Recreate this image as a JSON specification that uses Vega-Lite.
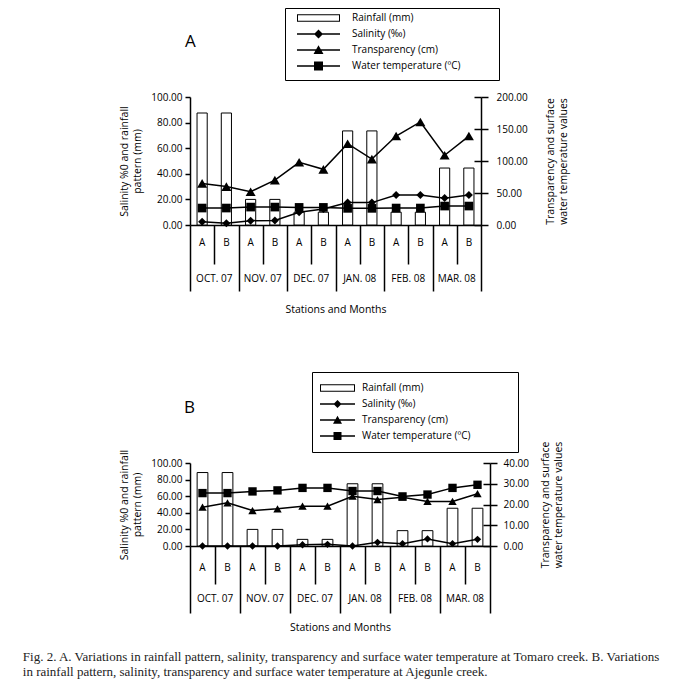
{
  "$schema": "https://vega.github.io/schema/vega-lite/v6.json",
  "padding": {"left": 22, "top": 7, "right": 5, "bottom": 5},
  "config": {
    "font": "Open Sans",
    "view": {"stroke": null},
    "axis": {"labelFont": "Open Sans", "labelFontSize": 10, "labelColor": "black", "labelAngle": 0, "titleFont": "Open Sans", "titleFontSize": 10.5, "titleFontWeight": "normal", "titleColor": "black", "domainColor": "black", "tickColor": "black", "grid": false},
    "legend": {"labelFont": "Open Sans", "labelFontSize": 10, "labelColor": "black"}
  },
  "title": {"text": ["Fig. 2. A. Variations in rainfall pattern, salinity, transparency and surface water temperature at Tomaro creek. B. Variations", "in rainfall pattern, salinity, transparency and surface water temperature at Ajegunle creek."], "orient": "bottom", "anchor": "start", "font": "Liberation Serif", "fontSize": 13, "fontWeight": "normal", "color": "#222", "lineHeight": 15, "offset": 18, "dx": -97},
  "spacing": 55,
  "resolve": {"scale": {"shape": "independent"}, "legend": {"shape": "independent"}},
  "vconcat": [
    {
      "width": 291, "height": 128,
      "title": {"text": "A", "anchor": "start", "frame": "group", "fontSize": 17, "fontWeight": "normal", "font": "Open Sans", "baseline": "top", "offset": 0, "dy": 43, "dx": -5},
      "data": {"values": [
        {"site": "OCT. 07 A", "rain": 87.5, "sal": 2.5, "transp": 65, "temp": 26.5},
        {"site": "OCT. 07 B", "rain": 87.5, "sal": 1.3, "transp": 60, "temp": 26.5},
        {"site": "NOV. 07 A", "rain": 20, "sal": 3.4, "transp": 52, "temp": 28},
        {"site": "NOV. 07 B", "rain": 20, "sal": 3.5, "transp": 70, "temp": 28},
        {"site": "DEC. 07 A", "rain": 10, "sal": 10, "transp": 98, "temp": 27.5},
        {"site": "DEC. 07 B", "rain": 10, "sal": 12.5, "transp": 87, "temp": 27.5},
        {"site": "JAN. 08 A", "rain": 73.5, "sal": 17.5, "transp": 127, "temp": 26},
        {"site": "JAN. 08 B", "rain": 73.5, "sal": 17.5, "transp": 103, "temp": 26},
        {"site": "FEB. 08 A", "rain": 10, "sal": 23.4, "transp": 139, "temp": 26.5},
        {"site": "FEB. 08 B", "rain": 10, "sal": 23.4, "transp": 161, "temp": 26.5},
        {"site": "MAR. 08 A", "rain": 44.5, "sal": 21, "transp": 109, "temp": 29.6},
        {"site": "MAR. 08 B", "rain": 44.5, "sal": 23.4, "transp": 139, "temp": 29.6}
      ]},
      "layer": [
        {"encoding": {
           "x": {"field": "site", "type": "nominal", "scale": {"domain": ["OCT. 07 A","OCT. 07 B","NOV. 07 A","NOV. 07 B","DEC. 07 A","DEC. 07 B","JAN. 08 A","JAN. 08 B","FEB. 08 A","FEB. 08 B","MAR. 08 A","MAR. 08 B"], "paddingInner": 0, "paddingOuter": 0},
             "axis": {"orient": "bottom", "title": "Stations and Months", "titlePadding": 13, "labels": false, "ticks": true, "tickBand": "extent", "tickWidth": 1.5, "domainWidth": 1.5,
               "tickSize": {"condition": {"test": "datum.value && indexof(datum.value, ' A') > 0", "value": 39}, "value": 66}}}
         },
         "layer": [
          {"mark": {"type": "bar", "fill": "white", "stroke": "black", "strokeWidth": 1, "width": {"band": 0.42}},
           "encoding": {
             "y": {"field": "rain", "type": "quantitative", "scale": {"domain": [0, 100], "nice": false},
               "axis": {"orient": "left", "values": [0, 20, 40, 60, 80, 100], "format": ".2f", "tickSize": 5, "tickWidth": 1.5, "domainWidth": 1.5, "labelPadding": 3, "title": ["Salinity %0 and rainfall", "pattern (mm)"], "titleLineHeight": 13, "titlePadding": 8}}
           }},
          {"mark": {"type": "line", "color": "black", "strokeWidth": 1.5},
           "encoding": {"y": {"field": "sal", "type": "quantitative", "scale": {"domain": [0, 100], "nice": false},
               "axis": {"orient": "left", "values": [0, 20, 40, 60, 80, 100], "format": ".2f", "tickSize": 5, "tickWidth": 1.5, "domainWidth": 1.5, "labelPadding": 3, "title": ["Salinity %0 and rainfall", "pattern (mm)"], "titleLineHeight": 13, "titlePadding": 8}}}},
          {"mark": {"type": "point", "shape": "diamond", "filled": true, "color": "black", "size": 64, "opacity": 1},
           "encoding": {"y": {"field": "sal", "type": "quantitative", "scale": {"domain": [0, 100], "nice": false},
               "axis": {"orient": "left", "values": [0, 20, 40, 60, 80, 100], "format": ".2f", "tickSize": 5, "tickWidth": 1.5, "domainWidth": 1.5, "labelPadding": 3, "title": ["Salinity %0 and rainfall", "pattern (mm)"], "titleLineHeight": 13, "titlePadding": 8}}}}
        ]},
        {"encoding": {
           "x": {"field": "site", "type": "nominal", "axis": {"orient": "bottom", "labelExpr": "slice(datum.value, -1)", "ticks": false, "domain": false, "labelPadding": 12.5, "title": null}}
         },
         "layer": [
          {"mark": {"type": "line", "color": "black", "strokeWidth": 1.5},
           "encoding": {"y": {"field": "transp", "type": "quantitative", "scale": {"domain": [0, 200], "nice": false},
               "axis": {"orient": "right", "values": [0, 50, 100, 150, 200], "format": ".2f", "tickSize": 7, "tickWidth": 1.5, "domainWidth": 1.5, "labelPadding": 8, "title": ["Transparency and surface", "water temperature values"], "titleAngle": 270, "titleBaseline": "top", "titleLineHeight": 13, "titlePadding": 5}}}},
          {"mark": {"type": "line", "color": "black", "strokeWidth": 1.5},
           "encoding": {"y": {"field": "temp", "type": "quantitative", "scale": {"domain": [0, 200], "nice": false},
               "axis": {"orient": "right", "values": [0, 50, 100, 150, 200], "format": ".2f", "tickSize": 7, "tickWidth": 1.5, "domainWidth": 1.5, "labelPadding": 8, "title": ["Transparency and surface", "water temperature values"], "titleAngle": 270, "titleBaseline": "top", "titleLineHeight": 13, "titlePadding": 5}}}},
          {"mark": {"type": "point", "shape": "triangle-up", "filled": true, "color": "black", "size": 100, "opacity": 1},
           "encoding": {"y": {"field": "transp", "type": "quantitative", "scale": {"domain": [0, 200], "nice": false},
               "axis": {"orient": "right", "values": [0, 50, 100, 150, 200], "format": ".2f", "tickSize": 7, "tickWidth": 1.5, "domainWidth": 1.5, "labelPadding": 8, "title": ["Transparency and surface", "water temperature values"], "titleAngle": 270, "titleBaseline": "top", "titleLineHeight": 13, "titlePadding": 5}}}},
          {"mark": {"type": "point", "shape": "square", "filled": true, "color": "black", "size": 75, "opacity": 1},
           "encoding": {"y": {"field": "temp", "type": "quantitative", "scale": {"domain": [0, 200], "nice": false},
               "axis": {"orient": "right", "values": [0, 50, 100, 150, 200], "format": ".2f", "tickSize": 7, "tickWidth": 1.5, "domainWidth": 1.5, "labelPadding": 8, "title": ["Transparency and surface", "water temperature values"], "titleAngle": 270, "titleBaseline": "top", "titleLineHeight": 13, "titlePadding": 5}}}}
        ]},
        {"data": {"values": []},
         "mark": {"type": "point", "filled": true, "color": "black", "opacity": 1},
         "encoding": {
           "x": {"field": "site", "type": "nominal", "axis": {"orient": "bottom", "values": ["OCT. 07 A","NOV. 07 A","DEC. 07 A","JAN. 08 A","FEB. 08 A","MAR. 08 A"], "labelExpr": "replace(datum.value, ' A', '')", "labelOffset": 12.1, "labelPadding": 48, "ticks": false, "domain": false, "title": null}},
           "y": {"field": "v", "type": "quantitative", "scale": {"domain": [0, 200], "nice": false},
             "axis": {"orient": "right", "values": [0, 50, 100, 150, 200], "tickSize": -7, "tickWidth": 1.5, "labels": false, "domain": false, "title": null}},
           "shape": {"field": "series", "type": "nominal",
             "scale": {"domain": ["Rainfall (mm)", "Salinity (‰)", "Transparency (cm)", "Water temperature (ºC)"],
               "range": ["M-4.3,-0.75H4.3V0.75H-4.3Z M-4.1,-0.55V0.55H4.1V-0.55Z M35.1,0L35.1,0.01", "M-4.3,-0.16H4.3V0.16H-4.3Z M0,-0.9L0.9,0L0,0.9L-0.9,0Z", "M-4.3,-0.16H4.3V0.16H-4.3Z M0,-0.95L1,0.8L-1,0.8Z", "M-4.3,-0.16H4.3V0.16H-4.3Z M-0.9,-0.9H0.9V0.9H-0.9Z M0,1.8L0.01,1.8"]},
             "legend": {"title": null, "orient": "none", "legendX": 95, "legendY": -89, "strokeColor": "black", "padding": 5, "symbolSize": 100, "symbolFillColor": "black", "symbolStrokeWidth": 0, "symbolOpacity": 1, "symbolOffset": 23.5, "labelOffset": 28.5, "rowPadding": 6}}
         }}
      ],
      "resolve": {"scale": {"y": "independent"}, "axis": {"x": "independent", "y": "independent"}}
    },
    {
      "width": 300, "height": 83,
      "title": {"text": "B", "anchor": "start", "frame": "group", "fontSize": 17, "fontWeight": "normal", "font": "Open Sans", "baseline": "top", "offset": 0, "dy": 45, "dx": -6},
      "data": {"values": [
        {"site": "OCT. 07 A", "rain": 88.5, "sal": 0, "transp": 18.7, "temp": 25.5},
        {"site": "OCT. 07 B", "rain": 88.5, "sal": 0, "transp": 20.8, "temp": 25.5},
        {"site": "NOV. 07 A", "rain": 20, "sal": 0, "transp": 17.1, "temp": 26.3},
        {"site": "NOV. 07 B", "rain": 20, "sal": 0, "transp": 17.9, "temp": 26.8},
        {"site": "DEC. 07 A", "rain": 8, "sal": 1.5, "transp": 19.2, "temp": 28},
        {"site": "DEC. 07 B", "rain": 8, "sal": 2, "transp": 19.2, "temp": 28},
        {"site": "JAN. 08 A", "rain": 75, "sal": 0, "transp": 24, "temp": 26.5},
        {"site": "JAN. 08 B", "rain": 75, "sal": 4.4, "transp": 22.4, "temp": 26.5},
        {"site": "FEB. 08 A", "rain": 18.5, "sal": 2.8, "transp": 23.5, "temp": 23.9},
        {"site": "FEB. 08 B", "rain": 18.5, "sal": 8.5, "transp": 21.5, "temp": 24.8},
        {"site": "MAR. 08 A", "rain": 45.5, "sal": 2.8, "transp": 21.5, "temp": 28},
        {"site": "MAR. 08 B", "rain": 45.5, "sal": 8, "transp": 25.2, "temp": 29.5}
      ]},
      "layer": [
        {"encoding": {
           "x": {"field": "site", "type": "nominal", "scale": {"domain": ["OCT. 07 A","OCT. 07 B","NOV. 07 A","NOV. 07 B","DEC. 07 A","DEC. 07 B","JAN. 08 A","JAN. 08 B","FEB. 08 A","FEB. 08 B","MAR. 08 A","MAR. 08 B"], "paddingInner": 0, "paddingOuter": 0},
             "axis": {"orient": "bottom", "title": "Stations and Months", "titlePadding": 9, "labels": false, "ticks": true, "tickBand": "extent", "tickWidth": 1.5, "domainWidth": 1.5,
               "tickSize": {"condition": {"test": "datum.value && indexof(datum.value, ' A') > 0", "value": 38}, "value": 67}}}
         },
         "layer": [
          {"mark": {"type": "bar", "fill": "white", "stroke": "black", "strokeWidth": 1, "width": {"band": 0.43}},
           "encoding": {
             "y": {"field": "rain", "type": "quantitative", "scale": {"domain": [0, 100], "nice": false},
               "axis": {"orient": "left", "values": [0, 20, 40, 60, 80, 100], "format": ".2f", "tickSize": 5, "tickWidth": 1.5, "domainWidth": 1.5, "labelPadding": 3, "title": ["Salinity %0 and rainfall", "pattern (mm)"], "titleLineHeight": 13, "titlePadding": 8}}
           }},
          {"mark": {"type": "line", "color": "black", "strokeWidth": 1.5},
           "encoding": {"y": {"field": "sal", "type": "quantitative", "scale": {"domain": [0, 100], "nice": false},
               "axis": {"orient": "left", "values": [0, 20, 40, 60, 80, 100], "format": ".2f", "tickSize": 5, "tickWidth": 1.5, "domainWidth": 1.5, "labelPadding": 3, "title": ["Salinity %0 and rainfall", "pattern (mm)"], "titleLineHeight": 13, "titlePadding": 8}}}},
          {"mark": {"type": "point", "shape": "diamond", "filled": true, "color": "black", "size": 54, "opacity": 1},
           "encoding": {"y": {"field": "sal", "type": "quantitative", "scale": {"domain": [0, 100], "nice": false},
               "axis": {"orient": "left", "values": [0, 20, 40, 60, 80, 100], "format": ".2f", "tickSize": 5, "tickWidth": 1.5, "domainWidth": 1.5, "labelPadding": 3, "title": ["Salinity %0 and rainfall", "pattern (mm)"], "titleLineHeight": 13, "titlePadding": 8}}}}
        ]},
        {"encoding": {
           "x": {"field": "site", "type": "nominal", "axis": {"orient": "bottom", "labelExpr": "slice(datum.value, -1)", "ticks": false, "domain": false, "labelPadding": 16.5, "title": null}}
         },
         "layer": [
          {"mark": {"type": "line", "color": "black", "strokeWidth": 1.5},
           "encoding": {"y": {"field": "transp", "type": "quantitative", "scale": {"domain": [0, 40], "nice": false},
               "axis": {"orient": "right", "values": [0, 10, 20, 30, 40], "format": ".2f", "tickSize": 7, "tickWidth": 1.5, "domainWidth": 1.5, "labelPadding": 6, "title": ["Transparency and surface", "water temperature values"], "titleAngle": 270, "titleBaseline": "top", "titleLineHeight": 13, "titlePadding": -1}}}},
          {"mark": {"type": "line", "color": "black", "strokeWidth": 1.5},
           "encoding": {"y": {"field": "temp", "type": "quantitative", "scale": {"domain": [0, 40], "nice": false},
               "axis": {"orient": "right", "values": [0, 10, 20, 30, 40], "format": ".2f", "tickSize": 7, "tickWidth": 1.5, "domainWidth": 1.5, "labelPadding": 6, "title": ["Transparency and surface", "water temperature values"], "titleAngle": 270, "titleBaseline": "top", "titleLineHeight": 13, "titlePadding": -1}}}},
          {"mark": {"type": "point", "shape": "triangle-up", "filled": true, "color": "black", "size": 70, "opacity": 1},
           "encoding": {"y": {"field": "transp", "type": "quantitative", "scale": {"domain": [0, 40], "nice": false},
               "axis": {"orient": "right", "values": [0, 10, 20, 30, 40], "format": ".2f", "tickSize": 7, "tickWidth": 1.5, "domainWidth": 1.5, "labelPadding": 6, "title": ["Transparency and surface", "water temperature values"], "titleAngle": 270, "titleBaseline": "top", "titleLineHeight": 13, "titlePadding": -1}}}},
          {"mark": {"type": "point", "shape": "square", "filled": true, "color": "black", "size": 70, "opacity": 1},
           "encoding": {"y": {"field": "temp", "type": "quantitative", "scale": {"domain": [0, 40], "nice": false},
               "axis": {"orient": "right", "values": [0, 10, 20, 30, 40], "format": ".2f", "tickSize": 7, "tickWidth": 1.5, "domainWidth": 1.5, "labelPadding": 6, "title": ["Transparency and surface", "water temperature values"], "titleAngle": 270, "titleBaseline": "top", "titleLineHeight": 13, "titlePadding": -1}}}}
        ]},
        {"data": {"values": []},
         "mark": {"type": "point", "filled": true, "color": "black", "opacity": 1},
         "encoding": {
           "x": {"field": "site", "type": "nominal", "axis": {"orient": "bottom", "values": ["OCT. 07 A","NOV. 07 A","DEC. 07 A","JAN. 08 A","FEB. 08 A","MAR. 08 A"], "labelExpr": "replace(datum.value, ' A', '')", "labelOffset": 12.5, "labelPadding": 47, "ticks": false, "domain": false, "title": null}},
           "y": {"field": "v", "type": "quantitative", "scale": {"domain": [0, 40], "nice": false},
             "axis": {"orient": "right", "values": [0, 10, 20, 30, 40], "tickSize": -7, "tickWidth": 1.5, "labels": false, "domain": false, "title": null}},
           "shape": {"field": "series", "type": "nominal",
             "scale": {"domain": ["Rainfall (mm)", "Salinity (‰)", "Transparency (cm)", "Water temperature (ºC)"],
               "range": ["M-3.5,-0.75H3.5V0.75H-3.5Z M-3.3,-0.55V0.55H3.3V-0.55Z M33.9,0L33.9,0.01", "M-3.5,-0.16H3.5V0.16H-3.5Z M0,-0.8L0.8,0L0,0.8L-0.8,0Z", "M-3.5,-0.16H3.5V0.16H-3.5Z M0,-0.85L0.9,0.75L-0.9,0.75Z", "M-3.5,-0.16H3.5V0.16H-3.5Z M-0.8,-0.8H0.8V0.8H-0.8Z"]},
             "legend": {"title": null, "orient": "none", "legendX": 122, "legendY": -91, "strokeColor": "black", "padding": 11, "symbolSize": 100, "symbolFillColor": "black", "symbolStrokeWidth": 0, "symbolOpacity": 1, "symbolOffset": 9.5, "labelOffset": 19.5, "rowPadding": 6}}
         }}
      ],
      "resolve": {"scale": {"y": "independent"}, "axis": {"x": "independent", "y": "independent"}}
    }
  ]
}
